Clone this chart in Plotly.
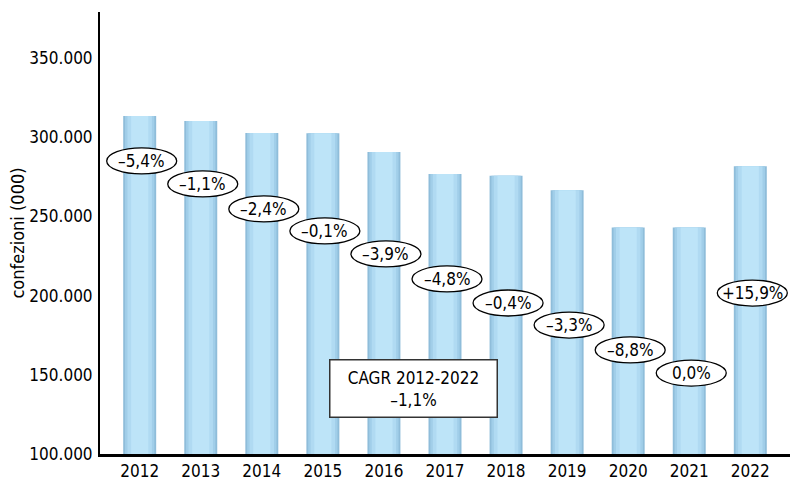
import plotly.graph_objects as go

years = ["2012", "2013", "2014", "2015", "2016", "2017", "2018", "2019", "2020", "2021", "2022"]
confezioni = [313400, 310200, 302700, 302400, 290600, 276700, 275600, 266500, 243000, 243000, 281600]
var_pct = ["–5,4%", "–1,1%", "–2,4%", "–0,1%", "–3,9%", "–4,8%", "–0,4%", "–3,3%", "–8,8%", "0,0%", "+15,9%"]
y_ticks = [100000, 150000, 200000, 250000, 300000, 350000]
cagr_text = "CAGR 2012-2022<br>–1,1%"

# placement of the ellipse labels (layout only)
label_pos = [285000, 270500, 254700, 240800, 226300, 210500, 195300, 181400, 165700, 151100, 201600]

FONT = "DejaVu Sans Condensed, DejaVu Sans, sans-serif"

fig = go.Figure()
layers = [(0.54, "#8fbdda"), (0.48, "#a1cee9"), (0.40, "#b0daf2"), (0.28, "#bde4f8")]
for w, c in layers:
    fig.add_trace(go.Bar(x=years, y=confezioni, width=w, marker=dict(color=c, line=dict(width=0)),
                         hoverinfo="skip", showlegend=False))

shapes = []
annotations = []
for i, (lab, yp) in enumerate(zip(var_pct, label_pos)):
    shapes.append(dict(type="circle", xref="x", yref="y", xsizemode="pixel", ysizemode="pixel",
                       xanchor=i, yanchor=yp, x0=-33, x1=37, y0=-13, y1=13,
                       fillcolor="white", line=dict(color="black", width=1.3), layer="above"))
    annotations.append(dict(x=i, y=yp, xref="x", yref="y", text=lab, showarrow=False, xshift=2,
                            font=dict(family=FONT, size=17, color="black")))

annotations.append(dict(x=4.49, y=141300, xref="x", yref="y", text=cagr_text, showarrow=False,
                        font=dict(family=FONT, size=17, color="black"), bgcolor="white",
                        bordercolor="#333333", borderwidth=1.5, borderpad=7, width=152, align="center"))

fig.update_layout(
    width=792, height=484,
    margin=dict(l=100, r=2, t=12, b=30),
    plot_bgcolor="white", paper_bgcolor="white",
    barmode="overlay",
    separators=",.",
    font=dict(family=FONT, size=17, color="black"),
    shapes=shapes, annotations=annotations,
    xaxis=dict(type="category", range=[-0.65, 10.65], showgrid=False, showline=True,
               linecolor="black", linewidth=3, ticks="", tickfont=dict(size=17)),
    yaxis=dict(range=[100000, 379000], tickvals=y_ticks, tickformat=",d", showgrid=False,
               showline=True, linecolor="black", linewidth=2, ticks="", zeroline=False,
               tickfont=dict(size=17), ticklabelstandoff=2,
               title=dict(text="confezioni (000)", font=dict(size=18), standoff=0)),
)

post = ("document.body.style.margin='0';document.body.style.overflow='hidden';"
        "var s=document.createElement('style');"
        "s.textContent='text{font-stretch:condensed !important;}';"
        "document.head.appendChild(s);")
fig.write_html("out.html", post_script=post, config={"displayModeBar": False})
